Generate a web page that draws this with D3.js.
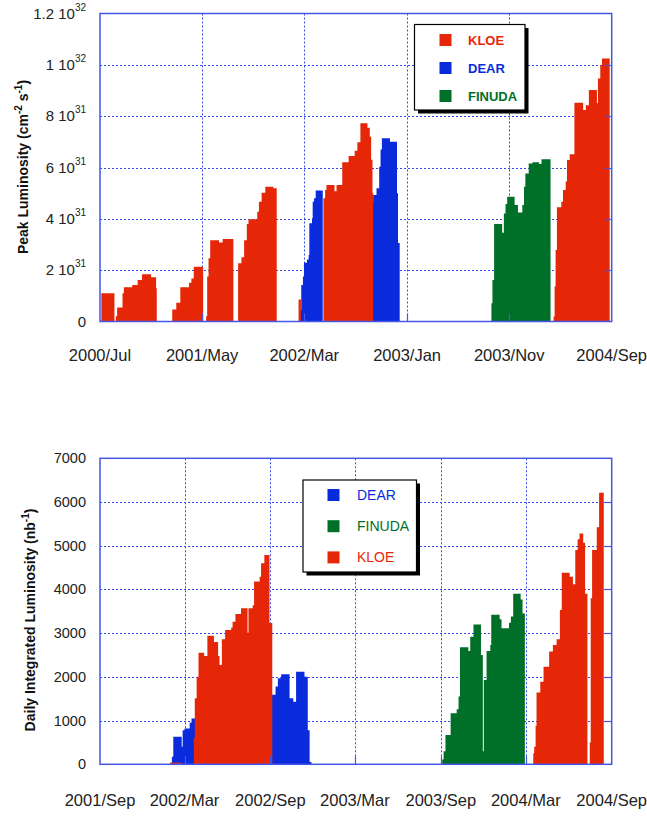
<!DOCTYPE html>
<html><head><meta charset="utf-8">
<script src="https://cdn.jsdelivr.net/npm/d3@7"></script>
<style>
body{margin:0;background:#fff}
svg{display:block}
text{font-family:"Liberation Sans",Arial,Helvetica,sans-serif}
</style>
</head><body>
<svg id="chart" width="647" height="816"></svg>
<script>
// ---------------- DATA ----------------
// Top chart: peak luminosity, values in units of 10^31 cm^-2 s^-1
const peakXTickDates = ["2000-07-01","2001-05-01","2002-03-01","2003-01-01","2003-11-01","2004-09-01"];
const peakXTickLabels = ["2000/Jul","2001/May","2002/Mar","2003/Jan","2003/Nov","2004/Sep"];
const peakYTicks = [0,2,4,6,8,10,12];
const peakYTickMantissa = ["0","2","4","6","8","1","1.2"];
const peakYTickExponent = ["","31","31","31","31","32","32"];

const peakKLOE = [
  [["2000-07-05",1.1],["2000-08-13",0]],
  [["2000-08-17",0.2],["2000-08-21",0.55],["2000-09-06",1.1],["2000-09-10",1.33],["2000-10-05",1.42],["2000-10-21",1.62],["2000-11-03",1.84],["2000-11-30",1.72],["2000-12-15",1.3],["2000-12-17",0]],
  [["2001-02-01",0.47],["2001-02-13",0.73],["2001-02-25",1.33],["2001-03-23",1.51],["2001-03-30",1.68],["2001-04-06",2.13],["2001-05-04",0]],
  [["2001-05-13",0.2],["2001-05-16",1.75],["2001-05-20",2.46],["2001-05-25",3.17],["2001-06-20",3.08],["2001-07-01",3.21],["2001-08-02",0]],
  [["2001-08-16",2.27],["2001-08-26",2.5],["2001-09-03",3.17],["2001-09-11",3.8],["2001-09-16",3.98],["2001-10-12",4.28],["2001-10-17",4.67],["2001-10-25",5.02],["2001-11-05",5.25],["2001-11-29",5.19],["2001-12-09",0]],
  [["2002-02-12",0.86],["2002-02-19",0]],
  [["2002-04-27",4.8],["2002-05-02",5.12],["2002-05-06",5.32],["2002-05-30",5.07],["2002-06-05",5.32],["2002-06-22",6.2],["2002-07-11",6.45],["2002-07-29",6.65],["2002-08-06",6.98],["2002-08-15",7.72],["2002-09-05",7.55],["2002-09-12",7.2],["2002-09-16",6.3],["2002-09-20",5.0],["2002-09-22",0]],
  [["2004-03-12",0.19],["2004-03-15",1.36],["2004-03-18",2.79],["2004-03-22",4.45],["2004-04-04",4.67],["2004-04-09",5.12],["2004-04-17",5.45],["2004-04-21",6.29],["2004-04-29",6.52],["2004-05-13",8.52],["2004-06-08",8.24],["2004-06-16",8.43],["2004-06-25",9.02],["2004-07-19",8.5],["2004-07-22",9.47],["2004-07-29",9.99],["2004-08-03",10.25],["2004-08-26",0]]
];
const peakDEAR = [
  [["2002-02-15",0.45],["2002-02-20",1.42],["2002-02-25",1.75],["2002-02-28",2.29],["2002-03-09",2.42],["2002-03-14",2.59],["2002-03-16",3.83],["2002-03-24",4.02],["2002-03-26",4.67],["2002-03-30",4.8],["2002-04-04",5.1],["2002-04-25",0]],
  [["2002-09-08",2.98],["2002-09-10",4.67],["2002-09-22",4.93],["2002-10-02",5.19],["2002-10-10",6.03],["2002-10-14",6.7],["2002-10-18",7.14],["2002-11-11",7.0],["2002-12-02",5.0],["2002-12-05",3.06],["2002-12-10",0]]
];
const peakFINUDA = [
  [["2003-09-09",0.71],["2003-09-12",1.62],["2003-09-17",3.8],["2003-10-11",3.46],["2003-10-16",4.21],["2003-10-21",4.58],["2003-10-26",4.86],["2003-11-17",4.54],["2003-11-27",4.25],["2003-12-10",4.54],["2003-12-15",5.25],["2003-12-19",5.77],["2003-12-29",6.16],["2004-01-09",6.2],["2004-01-29",6.14],["2004-02-05",6.32],["2004-03-03",0]]
];

// Bottom chart: daily integrated luminosity, nb^-1
const dailyXTickDates = ["2001-09-01","2002-03-01","2002-09-01","2003-03-01","2003-09-01","2004-03-01","2004-09-01"];
const dailyXTickLabels = ["2001/Sep","2002/Mar","2002/Sep","2003/Mar","2003/Sep","2004/Mar","2004/Sep"];
const dailyYTicks = [0,1000,2000,3000,4000,5000,6000,7000];

const dailyDEAR = [
  [["2002-02-02",170],["2002-02-05",630],["2002-02-23",400],["2002-02-25",780],["2002-03-01",820],["2002-03-12",950],["2002-03-16",1050],["2002-03-25",0]],
  [["2002-09-03",1590],["2002-09-12",1780],["2002-09-17",1970],["2002-09-24",2060],["2002-10-12",1510],["2002-10-20",1430],["2002-10-26",2120],["2002-11-13",2000],["2002-11-20",780],["2002-11-24",50],["2002-11-28",0]]
];
const dailyFINUDA = [
  [["2003-09-04",110],["2003-09-07",300],["2003-09-11",670],["2003-09-22",1170],["2003-10-05",1260],["2003-10-09",1550],["2003-10-12",2680],["2003-10-30",2590],["2003-11-03",2920],["2003-11-10",3200],["2003-11-26",2500],["2003-11-30",300],["2003-12-02",1930],["2003-12-08",2590],["2003-12-16",2730],["2003-12-18",3420],["2004-01-05",3320],["2004-01-09",3110],["2004-01-25",3240],["2004-01-29",3380],["2004-02-03",3900],["2004-02-19",3770],["2004-02-23",3450],["2004-02-28",0]]
];
const dailyKLOE = [
  [["2002-01-29",40],["2002-02-23",0]],
  [["2002-03-21",600],["2002-03-23",1510],["2002-03-27",2000],["2002-03-31",2550],["2002-04-12",2480],["2002-04-19",2940],["2002-05-03",2800],["2002-05-12",2480],["2002-05-15",2270],["2002-05-20",2860],["2002-05-27",3070],["2002-06-09",3130],["2002-06-12",3260],["2002-06-18",3440],["2002-06-30",3570],["2002-07-14",3010],["2002-07-16",3570],["2002-07-25",3640],["2002-07-28",4180],["2002-08-09",4290],["2002-08-12",4600],["2002-08-19",4790],["2002-08-30",3230],["2002-09-05",0]],
  [["2004-03-17",250],["2004-03-19",400],["2004-03-22",880],["2004-03-24",1640],["2004-04-01",1890],["2004-04-08",2230],["2004-04-20",2580],["2004-04-28",2730],["2004-05-06",2860],["2004-05-13",3530],["2004-05-17",4380],["2004-06-03",4290],["2004-06-10",4120],["2004-06-15",4900],["2004-06-20",5150],["2004-06-24",5280],["2004-07-02",5070],["2004-07-06",3900],["2004-07-11",0]],
  [["2004-07-16",500],["2004-07-18",3800],["2004-07-21",4900],["2004-07-31",5420],["2004-08-05",6210],["2004-08-15",0]]
];

// ---------------- STYLE ----------------
const COL = {KLOE:"#e52708", DEAR:"#0a2bdc", FINUDA:"#006f27"};
const FRAME = "#4656e6", GRID = "#3447e8", TEXT = "#222";

const parse = d3.timeParse("%Y-%m-%d");
const svg = d3.select("#chart");
svg.append("rect").attr("width",647).attr("height",816).attr("fill","#fff");

function drawPanel(o){
  const L=100, R=611.7, T=o.top, B=o.bottom;
  const x = d3.scaleTime().domain([parse(o.xTicks[0]), parse(o.xTicks[o.xTicks.length-1])]).range([L,R]);
  const y = d3.scaleLinear().domain([0, o.yTicks[o.yTicks.length-1]]).range([B,T]);
  const g = svg.append("g");
  const clipId = "clip"+o.id;
  g.append("clipPath").attr("id",clipId).append("rect").attr("x",L).attr("y",T).attr("width",R-L).attr("height",B-T);

  // grid
  const grid = g.append("g").attr("stroke",GRID).attr("stroke-width",1).attr("stroke-dasharray","2,2");
  grid.selectAll("line.v").data(o.xTicks.slice(1,-1)).join("line")
    .attr("x1",d=>Math.round(x(parse(d)))+0.5).attr("x2",d=>Math.round(x(parse(d)))+0.5)
    .attr("y1",T).attr("y2",B);
  grid.selectAll("line.h").data(o.yTicks.slice(1,-1)).join("line")
    .attr("y1",d=>Math.round(y(d))+0.5).attr("y2",d=>Math.round(y(d))+0.5)
    .attr("x1",L).attr("x2",R);

  // series
  const area = d3.area().curve(d3.curveStepAfter)
    .x(d=>x(parse(d[0]))).y0(y(0)).y1(d=>y(d[1]));
  const sg = g.append("g").attr("clip-path",`url(#${clipId})`);
  o.series.forEach(s=>{
    sg.selectAll(null).data(s.runs).join("path")
      .attr("d",area).attr("fill",s.color).attr("stroke","none");
  });

  // inner ticks (bottom and right)
  const tk = g.append("g").attr("stroke",FRAME).attr("stroke-width",1.2);
  tk.selectAll("line.bt").data(o.xTicks.slice(1,-1)).join("line")
    .attr("x1",d=>Math.round(x(parse(d)))+0.5).attr("x2",d=>Math.round(x(parse(d)))+0.5)
    .attr("y1",B-8).attr("y2",B);
  tk.selectAll("line.rt").data(o.yTicks.slice(1,-1)).join("line")
    .attr("y1",d=>Math.round(y(d))+0.5).attr("y2",d=>Math.round(y(d))+0.5)
    .attr("x1",R-7).attr("x2",R);

  // frame
  g.append("rect").attr("x",L).attr("y",T).attr("width",R-L).attr("height",B-T)
    .attr("fill","none").attr("stroke",FRAME).attr("stroke-width",1.5);

  // x labels
  g.selectAll("text.xl").data(o.xTicks).join("text")
    .attr("x",d=>x(parse(d))).attr("y",o.xLabelY)
    .attr("text-anchor","middle").attr("font-size",16.5).attr("fill",TEXT)
    .text((d,i)=>o.xLabels[i]);

  // y labels
  const yl = g.selectAll("text.yl").data(o.yTicks).join("text")
    .attr("x",86).attr("y",d=>y(d)+5).attr("text-anchor","end")
    .attr("font-size",o.yFont).attr("fill",TEXT);
  yl.each(function(d,i){
    const t = d3.select(this);
    if(o.yMant){
      t.append("tspan").text(o.yMant[i] + (o.yExp[i] ? " 10" : ""));
      if(o.yExp[i]) t.append("tspan").attr("font-size",10).attr("dy",-8).text(o.yExp[i]);
    } else t.text(d);
  });

  return {x,y,g};
}

// ---------- top panel ----------
drawPanel({id:"top", top:13.5, bottom:321.5, xTicks:peakXTickDates, xLabels:peakXTickLabels,
  yTicks:peakYTicks, yMant:peakYTickMantissa, yExp:peakYTickExponent, yFont:15, xLabelY:361,
  series:[{runs:peakDEAR,color:COL.DEAR},{runs:peakFINUDA,color:COL.FINUDA},{runs:peakKLOE,color:COL.KLOE}]});

// ---------- bottom panel ----------
drawPanel({id:"bot", top:458.3, bottom:764.3, xTicks:dailyXTickDates, xLabels:dailyXTickLabels,
  yTicks:dailyYTicks, yFont:14.5, xLabelY:806,
  series:[{runs:dailyDEAR,color:COL.DEAR},{runs:dailyFINUDA,color:COL.FINUDA},{runs:dailyKLOE,color:COL.KLOE}]});

// ---------- axis titles ----------
const t1 = svg.append("text").attr("transform","translate(28,167) rotate(-90)")
  .attr("text-anchor","middle").attr("font-size",14).attr("font-weight","bold").attr("fill","#111");
t1.append("tspan").text("Peak Luminosity (cm");
t1.append("tspan").attr("font-size",10).attr("dy",-6).text("-2");
t1.append("tspan").attr("dy",6).text(" s");
t1.append("tspan").attr("font-size",10).attr("dy",-6).text("-1");
t1.append("tspan").attr("dy",6).text(")");

const t2 = svg.append("text").attr("transform","translate(35,620) rotate(-90)")
  .attr("text-anchor","middle").attr("font-size",14).attr("font-weight","bold").attr("fill","#111");
t2.append("tspan").text("Daily Integrated Luminosity (nb");
t2.append("tspan").attr("font-size",10).attr("dy",-6).text("-1");
t2.append("tspan").attr("dy",6).text(")");

// ---------- legends ----------
function legend(o){
  const g = svg.append("g");
  g.append("rect").attr("x",o.x+3.5).attr("y",o.y+3.5).attr("width",o.w).attr("height",o.h).attr("fill","#000");
  g.append("rect").attr("x",o.x).attr("y",o.y).attr("width",o.w).attr("height",o.h)
    .attr("fill","#fff").attr("stroke","#000").attr("stroke-width",1.2);
  o.items.forEach((it,i)=>{
    const cy = o.y0 + i*o.dy;
    g.append("rect").attr("x",o.sx).attr("y",cy-6).attr("width",12).attr("height",12).attr("fill",COL[it]);
    g.append("text").attr("x",o.tx).attr("y",cy+5).attr("font-size",o.fs).attr("font-weight",o.fw)
      .attr("fill",COL[it]).text(it);
  });
}
legend({x:414.5,y:24.5,w:110.5,h:85.5,items:["KLOE","DEAR","FINUDA"],y0:40,dy:28,sx:439.5,tx:468,fs:13,fw:"bold"});
legend({x:303,y:480,w:113.5,h:92,items:["DEAR","FINUDA","KLOE"],y0:495,dy:31.2,sx:327.5,tx:357,fs:14,fw:"normal"});
</script>
</body></html>
